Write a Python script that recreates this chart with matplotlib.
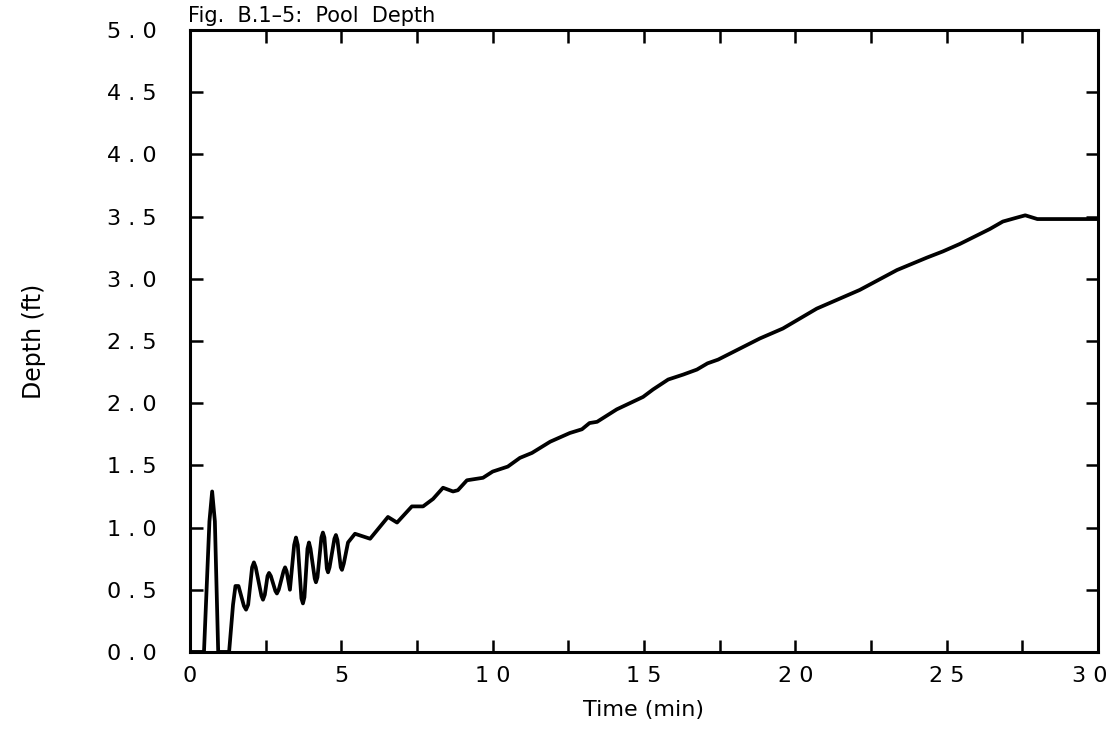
import matplotlib.pyplot as plt
import matplotlib.transforms as mtransforms
from matplotlib.ticker import MultipleLocator

# pool depth
time_min = [0.0, 0.46, 0.64, 0.73, 0.82, 0.93, 1.29, 1.42, 1.50, 1.60, 1.78, 1.85, 1.92,
            2.05, 2.11, 2.17, 2.36, 2.41, 2.47, 2.56, 2.61, 2.67, 2.82, 2.87, 2.93,
            3.09, 3.14, 3.19, 3.30, 3.44, 3.50, 3.56, 3.68, 3.73, 3.78, 3.88, 3.93, 3.98,
            4.12, 4.16, 4.21, 4.34, 4.39, 4.44, 4.52, 4.56, 4.61, 4.77, 4.82, 4.87,
            4.98, 5.02, 5.08, 5.22, 5.45, 5.95, 6.54, 6.84, 7.33, 7.70, 8.03,
            8.36, 8.69, 8.85, 9.15, 9.68, 10.0, 10.5, 10.9, 11.3, 11.9, 12.55,
            12.95, 13.2, 13.45, 14.1, 14.97, 15.3, 15.8, 16.3, 16.75, 17.1,
            17.45, 18.83, 19.59, 20.71, 22.13, 23.36, 24.35, 24.88, 25.44,
            26.43, 26.86, 27.3, 27.6, 28.0, 30.0]
depth_ft = [0.0, 0.0, 1.05, 1.29, 1.05, 0.0, 0.0, 0.38, 0.53, 0.53, 0.37, 0.34, 0.38,
            0.68, 0.72, 0.68, 0.45, 0.42, 0.46, 0.61, 0.635, 0.61, 0.49, 0.47, 0.50,
            0.65, 0.68, 0.65, 0.50, 0.86, 0.92, 0.86, 0.43, 0.39, 0.44, 0.83, 0.88, 0.83,
            0.59, 0.56, 0.60, 0.92, 0.96, 0.92, 0.67, 0.64, 0.68, 0.91, 0.94, 0.90,
            0.68, 0.66, 0.71, 0.88, 0.95, 0.91, 1.085, 1.04, 1.17, 1.17, 1.23,
            1.32, 1.29, 1.30, 1.38, 1.40, 1.45, 1.49, 1.56, 1.60, 1.69, 1.76,
            1.79, 1.84, 1.85, 1.95, 2.05, 2.11, 2.19, 2.23, 2.27, 2.32,
            2.35, 2.52, 2.60, 2.76, 2.91, 3.07, 3.17, 3.22, 3.28,
            3.40, 3.46, 3.49, 3.51, 3.48, 3.48]

xticks = [0, 5, 10, 15, 20, 25, 30]
yticks = [0.0, 0.5, 1.0, 1.5, 2.0, 2.5, 3.0, 3.5, 4.0, 4.5, 5.0]

fig = plt.figure(figsize=(11.18, 7.4), dpi=100)
ax = fig.add_axes([0.170, 0.119, 0.812, 0.8405])

ax.plot(time_min, depth_ft, color='black', lw=2.7, solid_joinstyle='round',
        solid_capstyle='round')

ax.set_xlim(0, 30)
ax.set_ylim(0, 5)
ax.set_xticks(xticks)
ax.set_xticklabels([' '.join(str(v)) for v in xticks])
ax.set_yticks(yticks)
ax.set_yticklabels([' '.join(f'{v:.1f}') for v in yticks])
ax.xaxis.set_minor_locator(MultipleLocator(2.5))

ax.tick_params(which='both', direction='in', top=True, right=True,
               length=9, width=1.8, labelsize=16, pad=10)
ax.tick_params(axis='y', pad=24)
for s in ax.spines.values():
    s.set_linewidth(2.2)

# pull the last x label back inside the figure, as in the original
last = ax.get_xticklabels()[-1]
last.set_transform(last.get_transform() + mtransforms.ScaledTranslation(-0.08, 0, fig.dpi_scale_trans))

ax.set_xlabel('Time (min)', fontsize=16, labelpad=10)
ax.set_ylabel('Depth (ft)', fontsize=17, labelpad=44)
fig.text(0.168, 0.979, 'Fig.  B.1\u20135:  Pool  Depth', fontsize=15, va='center', ha='left')

fig.savefig('out.png', dpi=100)
